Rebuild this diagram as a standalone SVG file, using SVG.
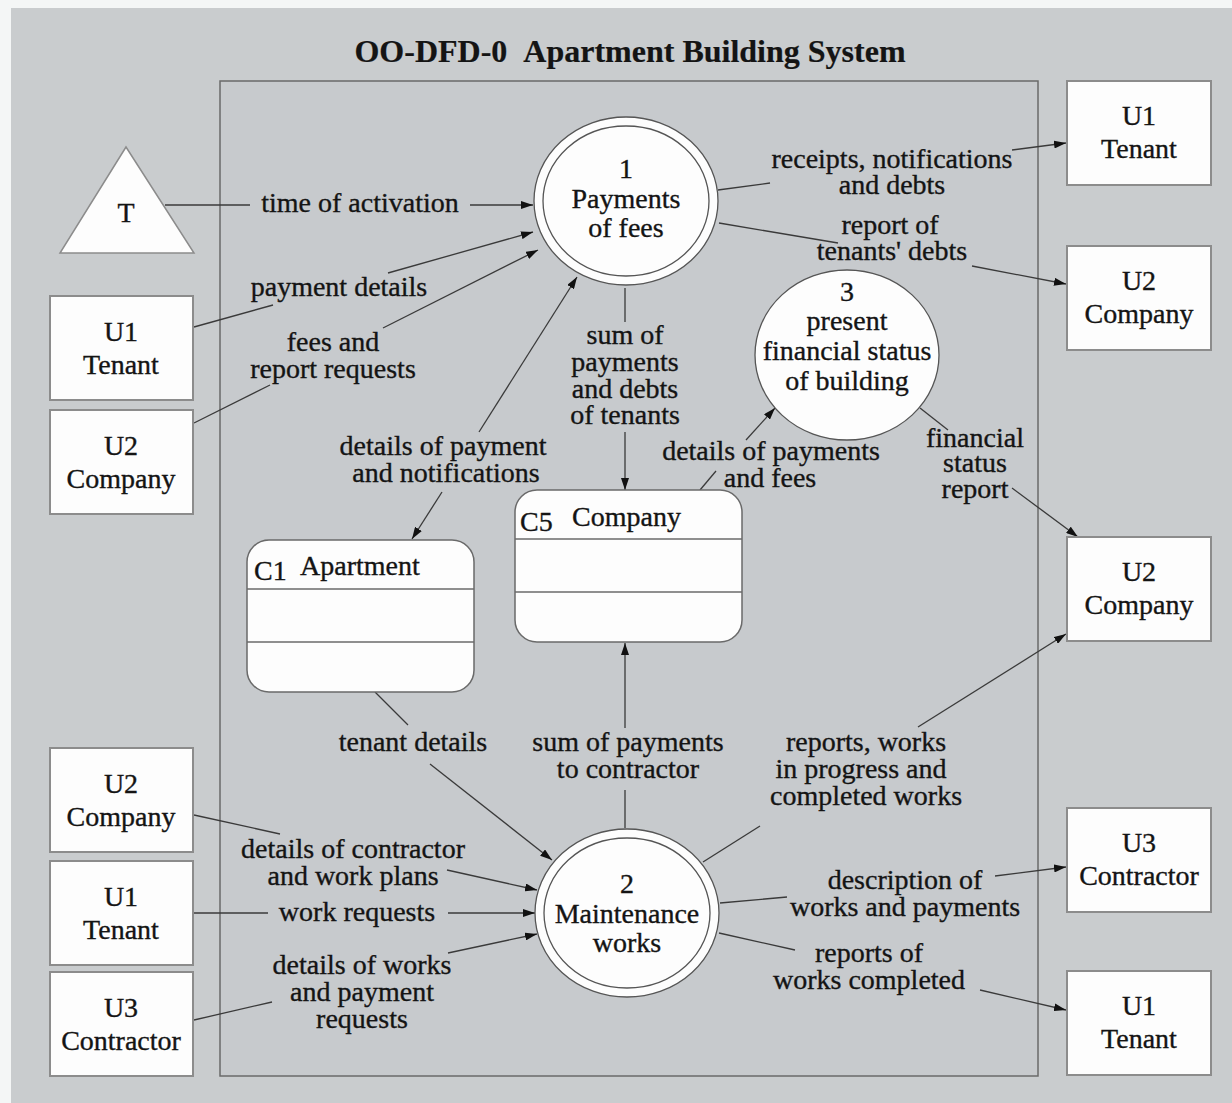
<svg xmlns="http://www.w3.org/2000/svg" width="1232" height="1103" viewBox="0 0 1232 1103">
  <style>
    text { font-family: "Liberation Serif", "Times New Roman", serif; font-size: 28px; fill: #141414; stroke: #141414; stroke-width: 0.35; }
    .title { font-size: 32px; font-weight: bold; stroke-width: 0.2; }
    .lbl { text-anchor: middle; }
    .ent { fill: #fdfdfd; stroke: #8c8c8c; stroke-width: 2; }
    .proc { fill: #fdfdfd; stroke: #555; stroke-width: 1.3; }
    .store { fill: #fdfdfd; stroke: #6a6a6a; stroke-width: 1.5; }
    .div { stroke: #6a6a6a; stroke-width: 1.5; }
    .flow { fill: none; stroke: #3a3a3a; stroke-width: 1.3; }
    .arr { marker-end: url(#ah); }
  </style>
  <defs>
    <marker id="ah" viewBox="0 0 12 8" refX="12" refY="4" markerWidth="12" markerHeight="8" markerUnits="userSpaceOnUse" orient="auto-start-reverse">
      <path d="M0,0 L12,4 L0,8 z" fill="#111"/>
    </marker>
  </defs>

  <!-- page -->
  <rect x="0" y="0" width="1232" height="1103" fill="#f4f6f6"/>
  <rect x="11" y="8" width="1221" height="1095" fill="#c9ccce"/>
  <text class="title lbl" x="630" y="62">OO-DFD-0&#160;&#160;Apartment Building System</text>

  <!-- system boundary -->
  <rect id="system" x="220" y="81" width="818" height="995" fill="#c7cacd" stroke="#6a6a6a" stroke-width="1.5"/>

  <!-- connectors -->
  <g id="connectors">
    <!-- time of activation -->
    <path class="flow" d="M165,205 L250,205"/>
    <path class="flow arr" d="M470,205 L533,205"/>
    <text class="lbl" x="360" y="212">time of activation</text>

    <!-- payment details -->
    <path class="flow" d="M194,327 L273,305"/>
    <path class="flow arr" d="M388,273 L533,232"/>
    <text class="lbl" x="339" y="296">payment details</text>

    <!-- fees and report requests -->
    <path class="flow" d="M194,423 L270,385"/>
    <path class="flow arr" d="M383,328 L538,250"/>
    <text class="lbl" y="351"><tspan x="333">fees and</tspan><tspan x="333" dy="27">report requests</tspan></text>

    <!-- details of payment and notifications (both ways) -->
    <path class="flow arr" d="M479,432 L577,277"/>
    <path class="flow arr" d="M442,492 L412,539"/>
    <text class="lbl" y="455"><tspan x="443">details of payment</tspan><tspan x="446" dy="27">and notifications</tspan></text>

    <!-- sum of payments and debts of tenants -->
    <path class="flow" d="M625,288 L625,322"/>
    <path class="flow arr" d="M625,432 L625,490"/>
    <text class="lbl" y="344"><tspan x="625">sum of</tspan><tspan x="625" dy="27">payments</tspan><tspan x="625" dy="27">and debts</tspan><tspan x="625" dy="26">of tenants</tspan></text>

    <!-- receipts, notifications and debts -->
    <path class="flow" d="M718,190 L770,183"/>
    <path class="flow arr" d="M1012,150 L1066,143"/>
    <text class="lbl" y="168"><tspan x="892">receipts, notifications</tspan><tspan x="892" dy="26">and debts</tspan></text>

    <!-- report of tenants' debts -->
    <path class="flow" d="M719,223 L838,243"/>
    <path class="flow arr" d="M972,266 L1066,284"/>
    <text class="lbl" y="234"><tspan x="890">report of</tspan><tspan x="892" dy="26">tenants' debts</tspan></text>

    <!-- details of payments and fees -->
    <path class="flow" d="M700,490 L716,471"/>
    <path class="flow arr" d="M746,440 L775,408"/>
    <text class="lbl" y="460"><tspan x="771">details of payments</tspan><tspan x="770" dy="27">and fees</tspan></text>

    <!-- financial status report -->
    <path class="flow" d="M920,408 L948,430"/>
    <path class="flow arr" d="M1012,488 L1078,537"/>
    <text class="lbl" y="447"><tspan x="975">financial</tspan><tspan x="975" dy="25">status</tspan><tspan x="975" dy="26">report</tspan></text>

    <!-- tenant details -->
    <path class="flow" d="M375,692 L408,725"/>
    <path class="flow arr" d="M430,764 L552,860"/>
    <text class="lbl" x="413" y="751">tenant details</text>

    <!-- sum of payments to contractor -->
    <path class="flow" d="M625,828 L625,790"/>
    <path class="flow arr" d="M625,728 L625,643"/>
    <text class="lbl" y="751"><tspan x="628">sum of payments</tspan><tspan x="628" dy="27">to contractor</tspan></text>

    <!-- reports, works in progress and completed works -->
    <path class="flow" d="M703,862 L760,826"/>
    <path class="flow arr" d="M918,727 L1066,634"/>
    <text class="lbl" y="751"><tspan x="866">reports, works</tspan><tspan x="861" dy="27">in progress and</tspan><tspan x="866" dy="27">completed works</tspan></text>

    <!-- description of works and payments -->
    <path class="flow" d="M720,903 L787,897"/>
    <path class="flow arr" d="M995,876 L1066,867"/>
    <text class="lbl" y="889"><tspan x="905">description of</tspan><tspan x="905" dy="27">works and payments</tspan></text>

    <!-- reports of works completed -->
    <path class="flow" d="M719,933 L795,950"/>
    <path class="flow arr" d="M980,990 L1066,1010"/>
    <text class="lbl" y="962"><tspan x="869">reports of</tspan><tspan x="869" dy="27">works completed</tspan></text>

    <!-- details of contractor and work plans -->
    <path class="flow" d="M194,815 L280,834"/>
    <path class="flow arr" d="M447,870 L537,890"/>
    <text class="lbl" y="858"><tspan x="353">details of contractor</tspan><tspan x="353" dy="27">and work plans</tspan></text>

    <!-- work requests -->
    <path class="flow" d="M194,913 L268,913"/>
    <path class="flow arr" d="M448,913 L535,913"/>
    <text class="lbl" x="357" y="921">work requests</text>

    <!-- details of works and payment requests -->
    <path class="flow" d="M194,1020 L272,1002"/>
    <path class="flow arr" d="M448,953 L537,934"/>
    <text class="lbl" y="974"><tspan x="362">details of works</tspan><tspan x="362" dy="27">and payment</tspan><tspan x="362" dy="27">requests</tspan></text>
  </g>

  <!-- timer -->
  <g id="timer-T">
    <polygon points="126,147 60,253 194,253" fill="#fdfdfd" stroke="#8c8c8c" stroke-width="1.5"/>
    <text class="lbl" x="126" y="222">T</text>
  </g>

  <!-- processes -->
  <g id="process-1">
    <ellipse class="proc" cx="626" cy="201" rx="92" ry="84"/>
    <ellipse class="proc" cx="626" cy="201" rx="83" ry="75"/>
    <text class="lbl" y="178"><tspan x="626">1</tspan><tspan x="626" dy="30">Payments</tspan><tspan x="626" dy="29">of fees</tspan></text>
  </g>
  <g id="process-2">
    <ellipse class="proc" cx="627" cy="913" rx="92" ry="84"/>
    <ellipse class="proc" cx="627" cy="913" rx="83" ry="75"/>
    <text class="lbl" y="893"><tspan x="627">2</tspan><tspan x="627" dy="30">Maintenance</tspan><tspan x="627" dy="29">works</tspan></text>
  </g>
  <g id="process-3">
    <ellipse class="proc" cx="847" cy="355" rx="92" ry="85"/>
    <text class="lbl" y="301"><tspan x="847">3</tspan><tspan x="847" dy="29">present</tspan><tspan x="847" dy="30">financial status</tspan><tspan x="847" dy="30">of building</tspan></text>
  </g>

  <!-- classes / stores -->
  <g id="class-C1">
    <rect class="store" x="247" y="540" width="227" height="152" rx="22"/>
    <line class="div" x1="247" y1="589" x2="474" y2="589"/>
    <line class="div" x1="247" y1="642" x2="474" y2="642"/>
    <text x="254" y="580">C1</text>
    <text x="300" y="575">Apartment</text>
  </g>
  <g id="class-C5">
    <rect class="store" x="515" y="490" width="227" height="152" rx="22"/>
    <line class="div" x1="515" y1="539" x2="742" y2="539"/>
    <line class="div" x1="515" y1="592" x2="742" y2="592"/>
    <text x="520" y="531">C5</text>
    <text x="572" y="526">Company</text>
  </g>

  <!-- external entities, left -->
  <g id="ent-U1-left-top">
    <rect class="ent" x="50" y="296" width="143" height="104"/>
    <text class="lbl" y="341"><tspan x="121">U1</tspan><tspan x="121" dy="33">Tenant</tspan></text>
  </g>
  <g id="ent-U2-left-top">
    <rect class="ent" x="50" y="410" width="143" height="104"/>
    <text class="lbl" y="455"><tspan x="121">U2</tspan><tspan x="121" dy="33">Company</tspan></text>
  </g>
  <g id="ent-U2-left-bottom">
    <rect class="ent" x="50" y="748" width="143" height="104"/>
    <text class="lbl" y="793"><tspan x="121">U2</tspan><tspan x="121" dy="33">Company</tspan></text>
  </g>
  <g id="ent-U1-left-bottom">
    <rect class="ent" x="50" y="861" width="143" height="104"/>
    <text class="lbl" y="906"><tspan x="121">U1</tspan><tspan x="121" dy="33">Tenant</tspan></text>
  </g>
  <g id="ent-U3-left">
    <rect class="ent" x="50" y="972" width="143" height="104"/>
    <text class="lbl" y="1017"><tspan x="121">U3</tspan><tspan x="121" dy="33">Contractor</tspan></text>
  </g>

  <!-- external entities, right -->
  <g id="ent-U1-right-top">
    <rect class="ent" x="1067" y="81" width="144" height="104"/>
    <text class="lbl" y="125"><tspan x="1139">U1</tspan><tspan x="1139" dy="33">Tenant</tspan></text>
  </g>
  <g id="ent-U2-right-top">
    <rect class="ent" x="1067" y="246" width="144" height="104"/>
    <text class="lbl" y="290"><tspan x="1139">U2</tspan><tspan x="1139" dy="33">Company</tspan></text>
  </g>
  <g id="ent-U2-right-mid">
    <rect class="ent" x="1067" y="537" width="144" height="104"/>
    <text class="lbl" y="581"><tspan x="1139">U2</tspan><tspan x="1139" dy="33">Company</tspan></text>
  </g>
  <g id="ent-U3-right">
    <rect class="ent" x="1067" y="808" width="144" height="104"/>
    <text class="lbl" y="852"><tspan x="1139">U3</tspan><tspan x="1139" dy="33">Contractor</tspan></text>
  </g>
  <g id="ent-U1-right-bottom">
    <rect class="ent" x="1067" y="971" width="144" height="104"/>
    <text class="lbl" y="1015"><tspan x="1139">U1</tspan><tspan x="1139" dy="33">Tenant</tspan></text>
  </g>
</svg>
